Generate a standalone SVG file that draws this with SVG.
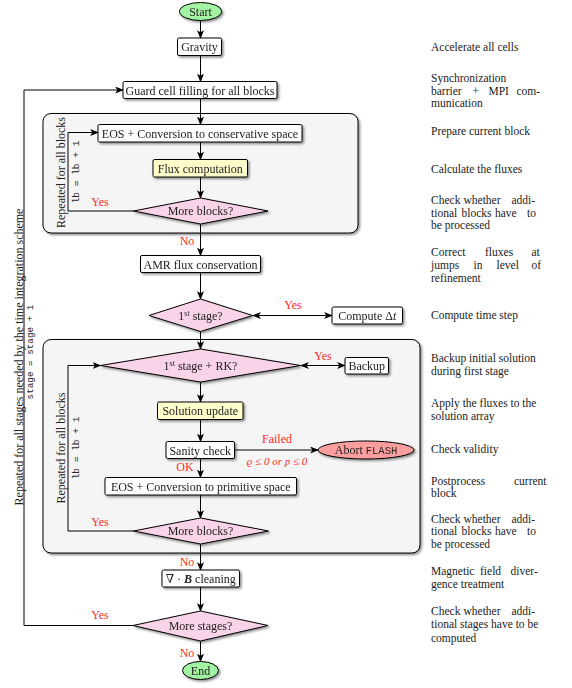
<svg xmlns="http://www.w3.org/2000/svg" width="572" height="688" viewBox="0 0 572 688">
<defs>
<filter id="sh" x="-20%" y="-30%" width="140%" height="170%">
<feDropShadow dx="1.6" dy="1.6" stdDeviation="0.9" flood-color="#000" flood-opacity="0.45"/>
</filter>
<marker id="ah" viewBox="0 0 10 8" refX="9" refY="4" markerWidth="9" markerHeight="7" markerUnits="userSpaceOnUse" orient="auto-start-reverse">
<path d="M0,0 L10,4 L0,8 L2.5,4 z" fill="#000"/>
</marker>
<style>
text{font-family:"Liberation Serif","DejaVu Serif",serif;font-size:12px;fill:#222}
.c{text-anchor:middle}
.m{font-family:"Liberation Mono","DejaVu Sans Mono",monospace}
.r{fill:#ff2a2a}
.d{font-size:11.5px;fill:#222}
.box{fill:#fff;stroke:#000;stroke-width:1}
.yel{fill:#ffffcc;stroke:#000;stroke-width:1}
.dia{fill:#f9d3e7;stroke:#000;stroke-width:1}
.grn{fill:#a3f5a3;stroke:#000;stroke-width:1}
.red{fill:#ff9e9e;stroke:#000;stroke-width:1}
.cont{fill:#f5f5f5;stroke:#000;stroke-width:1}
.e{fill:none;stroke:#000;stroke-width:1}
.a{marker-end:url(#ah)}
.aa{marker-end:url(#ah);marker-start:url(#ah)}
</style>
</defs>

<g id="containers">
<rect id="loop1" class="cont" x="43" y="113.5" width="315" height="119.5" rx="8" filter="url(#sh)"/>
<rect id="loop2" class="cont" x="43" y="339.5" width="377" height="213.5" rx="8" filter="url(#sh)"/>
</g>

<g id="connectors">
<line class="e a" x1="200.5" y1="20.5" x2="200.5" y2="38"/>
<line class="e a" x1="200.5" y1="55.5" x2="200.5" y2="81.5"/>
<line class="e a" x1="200.5" y1="98.5" x2="200.5" y2="124.5"/>
<line class="e a" x1="200.5" y1="142" x2="200.5" y2="159.5"/>
<line class="e a" x1="200.5" y1="177" x2="200.5" y2="198"/>
<polyline class="e a" points="134,211 68,211 68,132.5 98,132.5"/>
<line class="e a" x1="200.5" y1="224" x2="200.5" y2="255.5"/>
<line class="e a" x1="200.5" y1="272.5" x2="200.5" y2="299"/>
<line class="e aa" x1="253" y1="315.5" x2="332" y2="315.5"/>
<line class="e a" x1="200.5" y1="331.5" x2="200.5" y2="349"/>
<line class="e aa" x1="301" y1="365.5" x2="345" y2="365.5"/>
<line class="e a" x1="200.5" y1="382" x2="200.5" y2="402"/>
<line class="e a" x1="200.5" y1="419.5" x2="200.5" y2="441.5"/>
<line class="e a" x1="234.5" y1="450" x2="318" y2="450"/>
<line class="e a" x1="200.5" y1="458.5" x2="200.5" y2="477.5"/>
<line class="e a" x1="200.5" y1="495" x2="200.5" y2="518"/>
<polyline class="e a" points="134,531 68,531 68,365.5 100.5,365.5"/>
<line class="e a" x1="200.5" y1="544" x2="200.5" y2="570"/>
<line class="e a" x1="200.5" y1="587" x2="200.5" y2="611"/>
<polyline class="e a" points="134,625.5 24,625.5 24,90 123,90"/>
<line class="e a" x1="200.5" y1="641" x2="200.5" y2="661.5"/>
</g>

<g id="edge-labels">
<text class="c r" x="100" y="206">Yes</text>
<text class="c r" x="187" y="245">No</text>
<text class="c r" x="293" y="309">Yes</text>
<text class="c r" x="323" y="360">Yes</text>
<text class="c r" x="277" y="443">Failed</text>
<text class="c r" x="277" y="465" style="font-size:11px;font-style:italic">ϱ ≤ 0 or p ≤ 0</text>
<text class="c r" x="185" y="471">OK</text>
<text class="c r" x="100" y="526">Yes</text>
<text class="c r" x="187" y="566">No</text>
<text class="c r" x="100" y="619">Yes</text>
<text class="c r" x="187" y="657">No</text>
</g>

<g id="loop-labels">
<text class="c" transform="rotate(-90 23 357)" x="23" y="357">Repeated for all stages needed by the time integration scheme</text>
<text class="c m" transform="rotate(-90 33 352)" x="33" y="352" style="font-size:9.3px">stage = stage + 1</text>
<text class="c" transform="rotate(-90 65 172.5)" x="65" y="172.5">Repeated for all blocks</text>
<text class="c m" transform="rotate(-90 79 172)" x="79" y="172" style="font-size:9.5px">lb = lb + 1</text>
<text class="c" transform="rotate(-90 65 448)" x="65" y="448">Repeated for all blocks</text>
<text class="c m" transform="rotate(-90 79 448)" x="79" y="448" style="font-size:9.5px">lb = lb + 1</text>
</g>

<g id="start" filter="url(#sh)"><ellipse class="grn" cx="200.5" cy="11.5" rx="21" ry="9"/><text class="c" x="200.5" y="15.5">Start</text></g>
<g id="gravity" filter="url(#sh)"><rect class="box" x="177.5" y="38" width="44" height="17.5" rx="1.5"/><text class="c" x="199.5" y="51">Gravity</text></g>
<g id="guard" filter="url(#sh)"><rect class="box" x="123" y="81.5" width="154" height="17" rx="1.5"/><text class="c" x="200" y="94.5">Guard cell filling for all blocks</text></g>
<g id="eos-cons" filter="url(#sh)"><rect class="box" x="98" y="124.5" width="204" height="17.5" rx="1.5"/><text class="c" x="200" y="137.5">EOS + Conversion to conservative space</text></g>
<g id="flux" filter="url(#sh)"><rect class="yel" x="153" y="159.5" width="94.5" height="17.5" rx="1.5"/><text class="c" x="200.25" y="172.5">Flux computation</text></g>
<g id="more-blocks-1" filter="url(#sh)"><polygon class="dia" points="200.5,198 268,211 200.5,224 133.5,211"/><text class="c" x="200.5" y="215">More blocks?</text></g>
<g id="amr" filter="url(#sh)"><rect class="box" x="140.5" y="255.5" width="120" height="17" rx="1.5"/><text class="c" x="200.5" y="268.5">AMR flux conservation</text></g>
<g id="first-stage" filter="url(#sh)"><polygon class="dia" points="200.5,299 252.5,315.5 200.5,331.5 149,315.5"/><text class="c" x="200.5" y="319.5">1<tspan style="font-size:8px" dy="-4">st</tspan><tspan dy="4"> stage?</tspan></text></g>
<g id="compute-dt" filter="url(#sh)"><rect class="box" x="332" y="307" width="70.5" height="17" rx="1.5"/><text class="c" x="367.25" y="320">Compute Δ<tspan style="font-style:italic">t</tspan></text></g>
<g id="first-stage-rk" filter="url(#sh)"><polygon class="dia" points="200.5,349 300.5,365.5 200.5,382 100.5,365.5"/><text class="c" x="200.5" y="369.5">1<tspan style="font-size:8px" dy="-4">st</tspan><tspan dy="4"> stage + RK?</tspan></text></g>
<g id="backup" filter="url(#sh)"><rect class="box" x="345" y="357.5" width="43.5" height="16.5" rx="1.5"/><text class="c" x="366.75" y="370">Backup</text></g>
<g id="solution-update" filter="url(#sh)"><rect class="yel" x="157.5" y="402" width="85.5" height="17.5" rx="1.5"/><text class="c" x="200.25" y="415">Solution update</text></g>
<g id="sanity" filter="url(#sh)"><rect class="box" x="166" y="441.5" width="68.5" height="17" rx="1.5"/><text class="c" x="200.25" y="454.5">Sanity check</text></g>
<g id="abort" filter="url(#sh)"><ellipse class="red" cx="366" cy="450" rx="48" ry="9"/><text class="c" x="366" y="454">Abort <tspan class="m" style="font-size:10.5px">FLASH</tspan></text></g>
<g id="eos-prim" filter="url(#sh)"><rect class="box" x="105" y="477.5" width="191.5" height="17.5" rx="1.5"/><text class="c" x="200.75" y="490.5">EOS + Conversion to primitive space</text></g>
<g id="more-blocks-2" filter="url(#sh)"><polygon class="dia" points="200.5,518 268.5,531 200.5,544 133.5,531"/><text class="c" x="200.5" y="535">More blocks?</text></g>
<g id="divb" filter="url(#sh)"><rect class="box" x="162" y="570" width="77.5" height="17" rx="1.5"/><text class="c" x="200.75" y="583">∇ · <tspan style="font-weight:bold;font-style:italic">B</tspan> cleaning</text></g>
<g id="more-stages" filter="url(#sh)"><polygon class="dia" points="200.5,611 268,625.5 200.5,641 133,625.5"/><text class="c" x="200.5" y="629.5">More stages?</text></g>
<g id="end" filter="url(#sh)"><ellipse class="grn" cx="200.5" cy="670.5" rx="18" ry="9"/><text class="c" x="200.5" y="674.5">End</text></g>

<g id="descriptions">
<text class="d" x="431" y="50.5">Accelerate all cells</text>
<text class="d" x="431" y="81.5">Synchronization</text>
<text class="d" y="95"><tspan x="431">barrier</tspan><tspan x="472.5">+</tspan><tspan x="488.5">MPI</tspan><tspan x="516.5">com-</tspan></text>
<text class="d" x="431" y="107">munication</text>
<text class="d" x="431" y="135">Prepare current block</text>
<text class="d" x="431" y="172.5">Calculate the fluxes</text>
<text class="d" y="203.5"><tspan x="431">Check</tspan><tspan x="463.5">whether</tspan><tspan x="511.5">addi-</tspan></text>
<text class="d" y="216.5"><tspan x="431">tional</tspan><tspan x="461.5">blocks</tspan><tspan x="495">have</tspan><tspan x="527">to</tspan></text>
<text class="d" x="431" y="229">be processed</text>
<text class="d" y="256"><tspan x="431">Correct</tspan><tspan x="485">fluxes</tspan><tspan x="531.5">at</tspan></text>
<text class="d" y="269"><tspan x="431">jumps</tspan><tspan x="473.5">in</tspan><tspan x="496.5">level</tspan><tspan x="531.5">of</tspan></text>
<text class="d" x="431" y="281.5">refinement</text>
<text class="d" x="431" y="319">Compute time step</text>
<text class="d" x="431" y="361.5">Backup initial solution</text>
<text class="d" x="431" y="375">during first stage</text>
<text class="d" x="431" y="406.5">Apply the fluxes to the</text>
<text class="d" x="431" y="420">solution array</text>
<text class="d" x="431" y="452.5">Check validity</text>
<text class="d" y="485"><tspan x="431">Postprocess</tspan><tspan x="514">current</tspan></text>
<text class="d" x="431" y="497">block</text>
<text class="d" y="522.5"><tspan x="431">Check</tspan><tspan x="463.5">whether</tspan><tspan x="511.5">addi-</tspan></text>
<text class="d" y="535"><tspan x="431">tional</tspan><tspan x="461.5">blocks</tspan><tspan x="495">have</tspan><tspan x="527">to</tspan></text>
<text class="d" x="431" y="548">be processed</text>
<text class="d" y="575"><tspan x="431">Magnetic</tspan><tspan x="480">field</tspan><tspan x="510.5">diver-</tspan></text>
<text class="d" x="431" y="588">gence treatment</text>
<text class="d" y="615"><tspan x="431">Check</tspan><tspan x="463.5">whether</tspan><tspan x="511.5">addi-</tspan></text>
<text class="d" x="431" y="628">tional stages have to be</text>
<text class="d" x="431" y="641.5">computed</text>
</g>
</svg>
